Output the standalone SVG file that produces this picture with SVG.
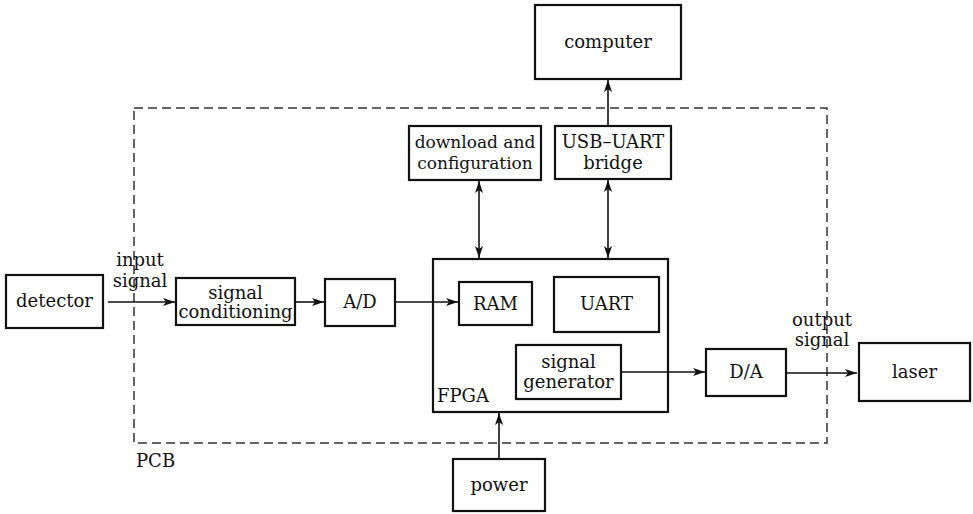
<svg xmlns="http://www.w3.org/2000/svg" width="973" height="514" viewBox="0 0 973 514">
<defs>
<marker id="ah" viewBox="0 0 12 8" refX="12" refY="4" markerWidth="12" markerHeight="8" markerUnits="userSpaceOnUse" orient="auto-start-reverse">
<path d="M0,0 L12,4 L0,8 L3,4 Z" fill="#111"/>
</marker>
<style>
.box{fill:#fff;stroke:#111;stroke-width:2.2}
.t{font-family:"DejaVu Serif","Liberation Serif",serif;font-size:18px;fill:#111;text-anchor:middle}
.ts{font-family:"DejaVu Serif","Liberation Serif",serif;font-size:17px;fill:#111;text-anchor:middle}
.c{fill:none;stroke:#111;stroke-width:1.6}
.pcb{fill:none;stroke:#333;stroke-width:1.5;stroke-dasharray:9,5}
</style>
</defs>
<rect width="973" height="514" fill="#fff"/>
<g id="pcb">
<rect class="pcb" x="134" y="108" width="693" height="335"/>
<text class="t" x="136" y="467" style="text-anchor:start">PCB</text>
</g>
<g id="detector"><rect class="box" x="6" y="275" width="97" height="53"/><text class="t" x="54.5" y="307">detector</text></g>
<g id="signal-conditioning"><rect class="box" x="176" y="278" width="119" height="47"/><text class="t" x="235.5" y="299">signal</text><text class="t" x="235.5" y="318">conditioning</text></g>
<g id="ad"><rect class="box" x="325" y="279" width="70" height="47"/><text class="t" x="360" y="308">A/D</text></g>
<g id="fpga"><rect class="box" x="433" y="259" width="235" height="153"/><text class="t" x="437" y="402" style="text-anchor:start">FPGA</text></g>
<g id="ram"><rect class="box" x="459" y="282" width="73" height="43"/><text class="t" x="495.5" y="310">RAM</text></g>
<g id="uart"><rect class="box" x="554" y="277" width="105" height="55"/><text class="t" x="606.5" y="310">UART</text></g>
<g id="signal-generator"><rect class="box" x="516" y="345" width="105" height="54"/><text class="t" x="568.5" y="368">signal</text><text class="t" x="568.5" y="388">generator</text></g>
<g id="da"><rect class="box" x="706" y="349" width="80" height="47"/><text class="t" x="746" y="378">D/A</text></g>
<g id="laser"><rect class="box" x="859" y="343" width="111" height="58"/><text class="t" x="914.5" y="378">laser</text></g>
<g id="computer"><rect class="box" x="535" y="5" width="146" height="74"/><text class="t" x="608" y="48">computer</text></g>
<g id="download"><rect class="box" x="409" y="126" width="132" height="54"/><text class="ts" x="475" y="148">download and</text><text class="ts" x="475" y="169">configuration</text></g>
<g id="usb-uart"><rect class="box" x="555" y="126" width="116" height="53"/><text class="t" x="613" y="148">USB–UART</text><text class="t" x="613" y="169">bridge</text></g>
<g id="power"><rect class="box" x="453" y="459" width="92" height="52"/><text class="t" x="499" y="491">power</text></g>
<g id="connectors">
<line class="c" x1="108" y1="302" x2="175" y2="302" marker-end="url(#ah)"/>
<line class="c" x1="295" y1="302" x2="324" y2="302" marker-end="url(#ah)"/>
<line class="c" x1="395" y1="302" x2="458" y2="302" marker-end="url(#ah)"/>
<line class="c" x1="621" y1="372" x2="705" y2="372" marker-end="url(#ah)"/>
<line class="c" x1="786" y1="373" x2="857" y2="373" marker-end="url(#ah)"/>
<line class="c" x1="608" y1="126" x2="608" y2="80" marker-end="url(#ah)"/>
<line class="c" x1="479" y1="181" x2="479" y2="258" marker-start="url(#ah)" marker-end="url(#ah)"/>
<line class="c" x1="608" y1="180" x2="608" y2="258" marker-start="url(#ah)" marker-end="url(#ah)"/>
<line class="c" x1="499" y1="459" x2="499" y2="413" marker-end="url(#ah)"/>
<text class="t" x="140" y="266">input</text>
<text class="t" x="140" y="287">signal</text>
<text class="t" x="822" y="326">output</text>
<text class="t" x="822" y="346">signal</text>
</g>
</svg>
